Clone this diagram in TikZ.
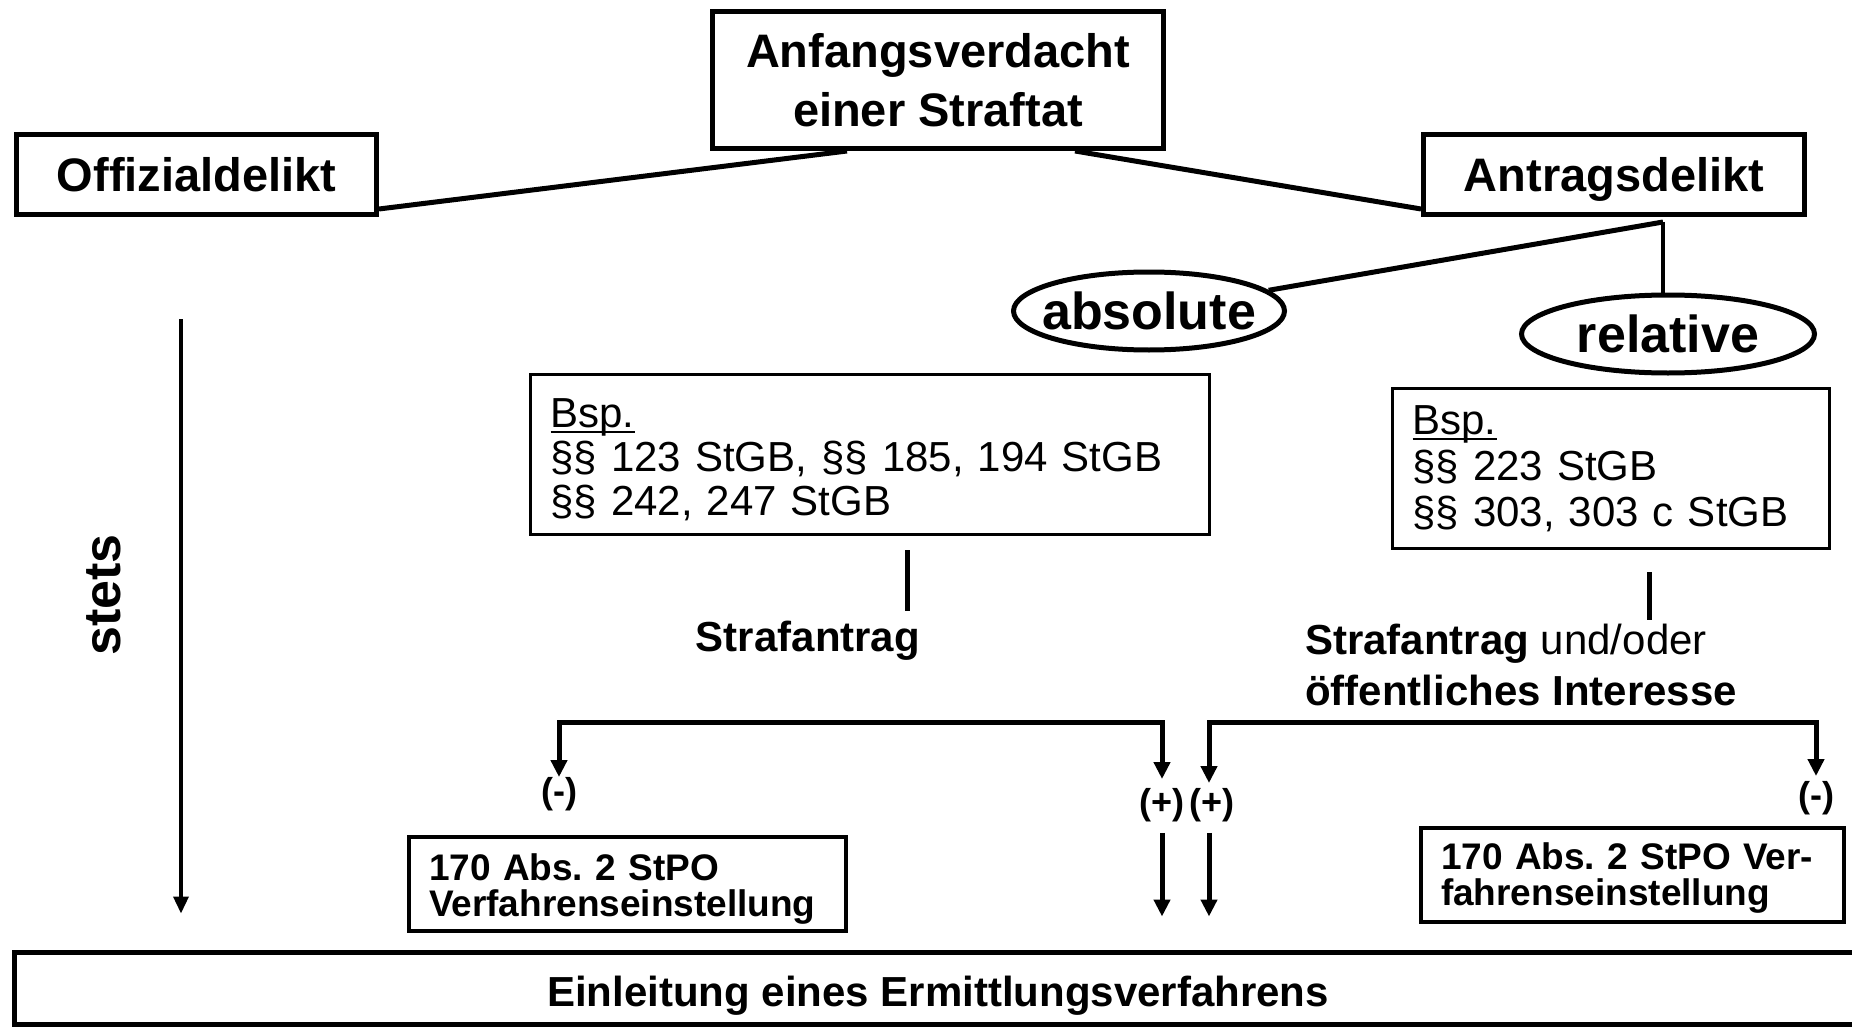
\documentclass[tikz,border=0pt]{standalone}
\usepackage{fontspec}
\setmainfont{Liberation Sans}
\usetikzlibrary{shapes.geometric,arrows.meta}
\frenchspacing
\newcommand{\bspul}[1]{{\setbox0\hbox{#1}\rlap{\rule[-6pt]{\wd0}{2.5pt}}#1}}
\begin{document}
\begin{tikzpicture}[x=1pt,y=-1pt,
  bigbox/.style={draw, line width=5pt, inner sep=0pt, align=center, font=\bfseries\fontsize{47pt}{59pt}\selectfont},
  bspbox/.style={draw, line width=3.5pt, inner xsep=20pt, inner ysep=0pt, align=left, font=\fontsize{42pt}{44pt}\selectfont},
  stpobox/.style={draw, line width=4.5pt, inner xsep=20pt, inner ysep=0pt, align=left, font=\bfseries\fontsize{37pt}{36pt}\selectfont},
  ell/.style={draw, ellipse, line width=5pt, inner sep=0pt, font=\bfseries\fontsize{52pt}{60pt}\selectfont},
  pm/.style={inner sep=0pt, font=\bfseries\fontsize{36pt}{40pt}\selectfont},
  ln/.style={line width=5pt},
  arr/.style={line width=5pt, -{Triangle[width=16pt,length=17pt]}},
  arrb/.style={line width=5pt, {Triangle[width=16pt,length=17pt]}-{Triangle[width=16pt,length=17pt]}},
  thinarr/.style={line width=3.5pt, -{Triangle[width=15pt,length=17pt]}}]
\path[use as bounding box] (0,0) rectangle (1852,1027);

% top level
\node[bigbox, minimum width=451pt, minimum height=137pt] (anf) at (938,80) {Anfangsverdacht\\einer Straftat};
\node[bigbox, text height=34pt, text depth=0pt, minimum width=360pt, minimum height=80pt] (off) at (196.5,174.5) {Offizialdelikt};
\node[bigbox, text height=34pt, text depth=0pt, minimum width=381pt, minimum height=80pt] (ant) at (1614,174.5) {Antragsdelikt};

\draw[ln] ([yshift=8pt]off.south east) -- ([xshift=-91pt]anf.south);
\draw[ln] ([xshift=137pt]anf.south) -- ([yshift=8pt]ant.south west);

% ellipses
\node[ell, minimum width=271pt, minimum height=78pt] (abs) at (1149,311) {\smash{\makebox[0pt]{\raisebox{-0.36em}{absolute}}}};
\node[ell, minimum width=293pt, minimum height=78pt] (rel) at (1668,334) {\smash{\makebox[0pt]{\raisebox{-0.36em}{relative}}}};
\coordinate (br) at ([xshift=49pt,yshift=-5pt]ant.south);
\draw[ln] (br) -- (abs);
\draw[line width=4pt] (br) -- (br |- rel.north);

% example boxes
\node[bspbox, text width=639pt, minimum height=160pt] (bspl) at (870,454.5) {\rule{0pt}{39pt}\bspul{Bsp.}\\§§ 123 StGB, §§ 185, 194 StGB\\§§ 242, 247 StGB};
\node[bspbox, text width=397pt, minimum height=160pt, font=\fontsize{42pt}{46pt}\selectfont] (bspr) at (1611,468.5) {\bspul{Bsp.}\\§§ 223 StGB\\§§ 303, 303 c StGB};

% conditions
\node[inner sep=0pt, font=\bfseries\fontsize{42pt}{51pt}\selectfont] (sa) at (808,641) {Strafantrag};
\node[inner sep=0pt, anchor=west, align=left, font=\fontsize{42pt}{51pt}\selectfont] (rt) at (1305,665) {\textbf{Strafantrag} und/oder\\\textbf{öffentliches Interesse}};
\coordinate (la) at ([xshift=37pt,yshift=-14pt]bspl.south);
\draw[ln] (la) -- (la |- sa.north) [shorten >=10pt];
\coordinate (ra) at ([xshift=38pt,yshift=-22pt]bspr.south);
\draw[ln] (ra) -- ++(0,48);

% outcomes
\node[pm] (m1) at (559,794) {(-)};
\node[pm] (p1) at (1162,805) {(+)};
\node[pm] (p2) at (1212,805) {(+)};
\node[pm] (m2) at (1816,798) {(-)};
\coordinate (hl) at (0,722);
\draw[arrb, shorten >=9pt] (m1.north) -- (m1.north |- hl) -- (p1.north |- hl) -- (p1.north);
\draw[arrb, shorten <=5pt, shorten >=5pt] ([xshift=-3pt]p2.north) -- ([xshift=-3pt]p2.north |- hl) -- (m2.north |- hl) -- (m2.north);

\node[stpobox, text width=397pt, minimum height=94pt] (s170l) at (627.5,884) {\rule{0pt}{37pt}170 Abs. 2 StPO\\Verfahrenseinstellung};
\node[stpobox, text width=383pt, minimum height=94pt] (s170r) at (1632.5,875) {\rule{0pt}{33pt}170 Abs. 2 StPO Ver-\\fahrenseinstellung};

% bottom box
\node[draw, line width=5pt, inner sep=0pt, text height=36pt, text depth=0pt, minimum width=1866pt, minimum height=72pt, font=\bfseries\fontsize{42pt}{50pt}\selectfont] (ein) at (947,988) {\hspace*{-18pt}Einleitung eines Ermittlungsverfahrens};

\draw[arr, shorten <=11pt, shorten >=33pt] (p1.south) -- (p1.south |- ein.north);
\draw[arr, shorten <=11pt, shorten >=33pt] ([xshift=-3pt]p2.south) -- ([xshift=-3pt]p2.south |- ein.north);

% stets
\coordinate (st) at (181,319);
\draw[thinarr, shorten >=36pt] (st) -- (st |- ein.north);
\node[rotate=90, anchor=base, inner sep=0pt, font=\bfseries\fontsize{52pt}{60pt}\selectfont] (stets) at (120,595) {stets};
\end{tikzpicture}
\end{document}
